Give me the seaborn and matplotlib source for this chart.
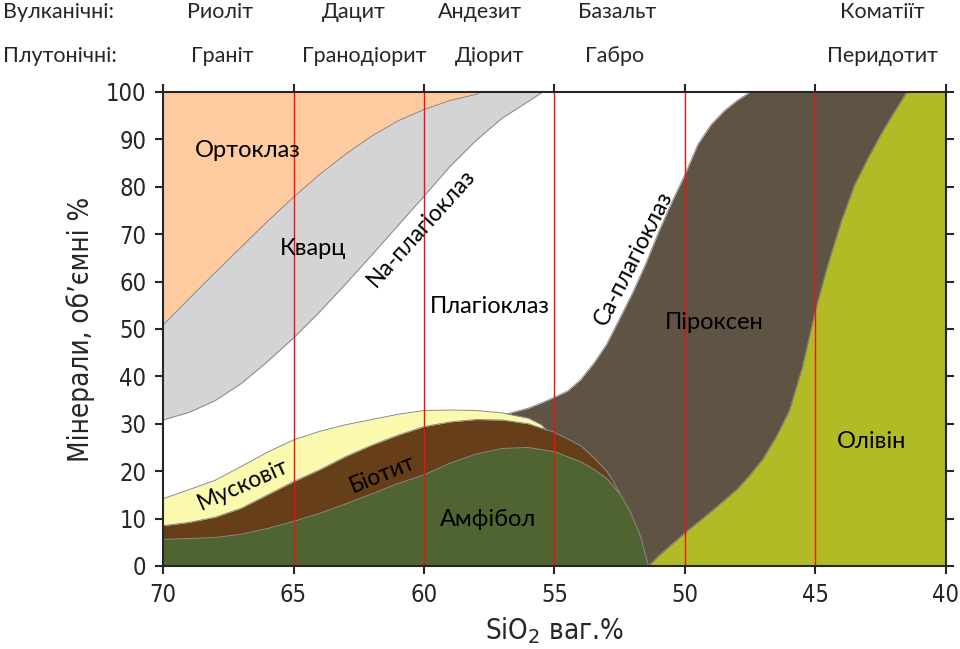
import numpy as np
import matplotlib
matplotlib.use("Agg")
import matplotlib.pyplot as plt
import seaborn as sns

sns.set_style("ticks")
plt.rcParams["font.family"] = ["Lato", "DejaVu Sans"]

# each boundary: SiO2 wt% -> cumulative vol %
# orthoclase / quartz boundary
qtz_top_x = [70, 69, 68, 67, 66, 65, 64, 63, 62, 61, 60, 59, 58, 57.85]
qtz_top_y = [50.8, 56.4, 61.9, 67.3, 72.7, 77.8, 82.6, 86.9, 90.7, 93.9, 96.3, 98.2, 99.5, 100]
# quartz / Na-plagioclase boundary
qtz_bot_x = [70, 69, 68, 67, 66, 65, 64, 63, 62, 61, 60, 59, 58, 57, 56, 55.45]
qtz_bot_y = [30.8, 32.4, 34.9, 38.5, 43.1, 48.1, 53.6, 59.5, 65.6, 71.8, 78.0, 84.3, 89.8,
             94.5, 98.0, 100]
# top of muscovite
musc_x = [70, 69, 68, 67, 66, 65, 64, 63, 62, 61, 60, 59, 58, 57, 56, 55.5, 55.3]
musc_y = [14.2, 16.1, 18.1, 21.0, 24.0, 26.6, 28.4, 29.8, 30.9, 32.0, 32.8, 32.9, 32.8, 32.3,
          31.2, 29.8, 28.6]
# top of biotite
bio_x = [70, 69, 68, 67, 66, 65, 64, 63, 62, 61, 60, 59, 58, 57, 56, 55, 54, 53.5, 53,
         52.75, 52.5]
bio_y = [8.5, 9.2, 10.3, 12.2, 15.0, 17.8, 20.3, 23.1, 25.5, 27.6, 29.4, 30.4, 30.9, 30.8,
         30.0, 28.2, 25.4, 22.9, 20.0, 17.9, 15.3]
# top of amphibole
amph_x = [70, 69, 68, 67, 66, 65, 64, 63, 62, 61, 60, 59, 58, 57, 56, 55, 54, 53.5, 53,
          52.5, 52.1, 51.7, 51.4]
amph_y = [5.6, 5.8, 6.0, 6.7, 7.9, 9.4, 11.1, 13.1, 15.2, 17.4, 19.2, 21.7, 23.6, 24.8,
          25.0, 24.1, 22.0, 20.4, 18.5, 15.3, 11.5, 6.2, 0]
# Ca-plagioclase / pyroxene boundary
pyx_x = [56.8, 56, 55.5, 55, 54.5, 54, 53.5, 53, 52.5, 52, 51.5, 51, 50.5, 50, 49.5, 49,
         48.5, 48, 47.5, 40]
pyx_y = [32.1, 33.3, 34.4, 35.6, 36.9, 39.3, 42.7, 46.8, 52.2, 57.7, 63.8, 70.6, 76.8, 82.6,
         89.0, 93.1, 96.0, 98.2, 100, 100]
# pyroxene / olivine boundary
oliv_x = [51.4, 51, 50, 49, 48, 47.5, 47, 46.5, 46, 45.5, 45, 44.5, 44, 43.5, 43, 42.5, 42,
          41.5, 40]
oliv_y = [0, 2.2, 7.0, 11.5, 16.2, 19.3, 22.7, 27.3, 32.8, 42.0, 54.0, 64.0, 72.9, 80.4,
          85.9, 91.0, 95.6, 100, 100]

fig = plt.figure(figsize=(9.6, 6.49), dpi=100)
ax = fig.add_axes([0.1698, 0.1279, 0.8156, 0.7304])

# painted back to front, each layer from the floor or ceiling
ax.fill_between(pyx_x, 0, pyx_y, color="#5F5443", lw=0)
ax.fill_between(oliv_x, 0, oliv_y, color="#B2BB26", lw=0)
ax.fill_between(musc_x, 0, musc_y, color="#FAF9AE", lw=0)
ax.fill_between(bio_x, 0, bio_y, color="#663E17", lw=0)
ax.fill_between(amph_x, 0, amph_y, color="#4F6430", lw=0)
ax.fill_between(qtz_bot_x, qtz_bot_y, 100, color="#D4D4D4", lw=0)
ax.fill_between(qtz_top_x, qtz_top_y, 100, color="#FECBA1", lw=0)

for bx, by in [(qtz_top_x, qtz_top_y), (qtz_bot_x, qtz_bot_y), (musc_x, musc_y),
               (bio_x, bio_y), (amph_x, amph_y), (pyx_x, pyx_y), (oliv_x, oliv_y)]:
    sns.lineplot(x=bx, y=by, ax=ax, color="#8a8a8a", lw=0.7, estimator=None, sort=False)

for xv in [65, 60, 55, 50, 45]:
    ax.axvline(xv, color="#F01010", lw=1)

ax.set_xlim(70, 40)
ax.set_ylim(0, 100)
ax.set_xticks([70, 65, 60, 55, 50, 45, 40])
ax.set_yticks(range(0, 101, 10))
ax.tick_params(direction="out", length=6, width=1.5, top=True, right=True,
               labelsize=17, pad=6)
for lab in ax.get_xticklabels() + ax.get_yticklabels():
    lab.set_family("DejaVu Sans")
    lab.set_fontstretch("condensed")
for s in ax.spines.values():
    s.set_linewidth(1.5)
    s.set_visible(True)

ax.set_xlabel("SiO$_2$ ваг.%", fontsize=20, family="DejaVu Sans", fontstretch="condensed",
              labelpad=6)
ax.set_ylabel("Мінерали, об’ємні %", fontsize=20, family="DejaVu Sans",
              fontstretch="condensed", labelpad=8)

lbl = dict(fontsize=17, color="black", ha="center")
ax.text(66.76, 86.3, "Ортоклаз", va="baseline", **lbl)
ax.text(64.25, 65.6, "Кварц", va="baseline", **lbl)
ax.text(57.49, 53.4, "Плагіоклаз", va="baseline", **lbl)
ax.text(48.87, 50.1, "Піроксен", va="baseline", **lbl)
ax.text(42.87, 24.9, "Олівін", va="baseline", **lbl)
ax.text(57.55, 8.5, "Амфібол", va="baseline", **lbl)
rot = dict(fontsize=16.5, color="black", ha="center", va="center", rotation_mode="anchor")
ax.text(60.11, 71.3, "Na-плагіоклаз", rotation=48, **rot)
ax.text(51.95, 65.0, "Ca-плагіоклаз", rotation=63, **rot)
ax.text(66.93, 17.1, "Мусковіт", rotation=24, **rot)
ax.text(61.61, 19.4, "Біотит", rotation=22, **rot)

volcanic = ["Риоліт", "Дацит", "Андезит", "Базальт", "Коматіїт"]
volcanic_px = [220, 354, 480, 617, 882]
plutonic = ["Граніт", "Гранодіорит", "Діорит", "Габро", "Перидотит"]
plutonic_px = [222, 364, 490, 615, 882]

fig.text(0.003, 0.982, "Вулканічні:", fontsize=15.5, ha="left", va="center")
fig.text(0.003, 0.913, "Плутонічні:", fontsize=15.5, ha="left", va="center")
for name, px in zip(volcanic, volcanic_px):
    fig.text(px / 960, 0.982, name, fontsize=15.5, ha="center", va="center")
for name, px in zip(plutonic, plutonic_px):
    fig.text(px / 960, 0.913, name, fontsize=15.5, ha="center", va="center")

fig.savefig("out.png", dpi=100, facecolor="white")
